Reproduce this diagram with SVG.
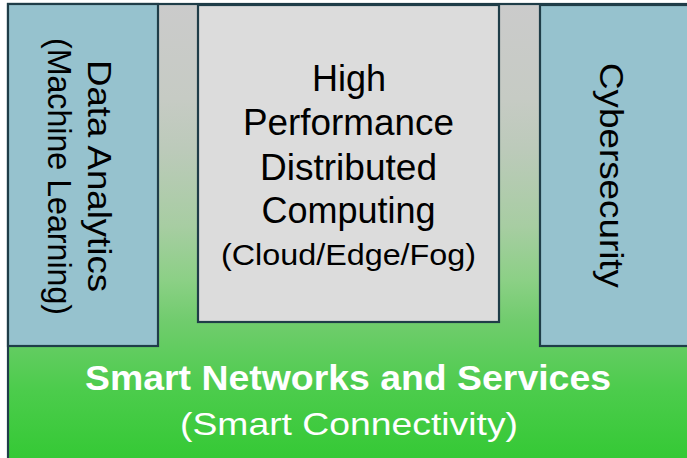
<svg xmlns="http://www.w3.org/2000/svg" width="687" height="458" viewBox="0 0 687 458">
  <defs>
    <linearGradient id="baseFill" x1="0" y1="4" x2="0" y2="458" gradientUnits="userSpaceOnUse">
      <stop offset="0" stop-color="#cbcbcb"/>
      <stop offset="0.21" stop-color="#c6cbc4"/>
      <stop offset="0.32" stop-color="#bccaba"/>
      <stop offset="0.49" stop-color="#a7cda2"/>
      <stop offset="0.61" stop-color="#8bd085"/>
      <stop offset="0.70" stop-color="#70cc6d"/>
      <stop offset="0.85" stop-color="#4ccc4c"/>
      <stop offset="1" stop-color="#35c935"/>
    </linearGradient>
  </defs>
  <style>
    .frame { stroke: #1f3d48; stroke-width: 2.2; }
    .pillar { fill: #96c2ce; }
    .core { fill: #dcdcdc; }
    .dark { font-family: "Liberation Sans", Arial, Helvetica, sans-serif; fill: #000; text-anchor: middle; }
    .light { font-family: "Liberation Sans", Arial, Helvetica, sans-serif; fill: #fff; text-anchor: middle; }
  </style>

  <!-- base layer: smart networks -->
  <g id="smart-networks">
    <rect class="frame" x="8" y="4" width="690" height="470" fill="url(#baseFill)"/>
    <text class="light" x="348" y="390" font-size="35" font-weight="bold" textLength="526" lengthAdjust="spacingAndGlyphs">Smart Networks and Services</text>
    <text class="light" x="349" y="435" font-size="32" textLength="338" lengthAdjust="spacingAndGlyphs">(Smart Connectivity)</text>
  </g>

  <!-- left pillar -->
  <g id="data-analytics">
    <rect class="frame pillar" x="8" y="4" width="150" height="342"/>
    <text class="dark" transform="translate(88,176) rotate(90)" font-size="33" textLength="232" lengthAdjust="spacingAndGlyphs">Data Analytics</text>
    <text class="dark" transform="translate(48,176.5) rotate(90)" font-size="33" textLength="277" lengthAdjust="spacingAndGlyphs">(Machine Learning)</text>
  </g>

  <!-- centre block -->
  <g id="hpc">
    <rect class="frame core" x="198" y="5" width="301" height="317"/>
    <text class="dark" x="349" y="91" font-size="36">High</text>
    <text class="dark" x="348.5" y="135" font-size="36" textLength="211" lengthAdjust="spacingAndGlyphs">Performance</text>
    <text class="dark" x="348.5" y="180" font-size="36" textLength="177" lengthAdjust="spacingAndGlyphs">Distributed</text>
    <text class="dark" x="348.5" y="223" font-size="36">Computing</text>
    <text class="dark" x="348.5" y="265" font-size="30" textLength="255" lengthAdjust="spacingAndGlyphs">(Cloud/Edge/Fog)</text>
  </g>

  <!-- right pillar -->
  <g id="cybersecurity">
    <rect class="frame pillar" x="540" y="5" width="160" height="341"/>
    <text class="dark" transform="translate(600,175.5) rotate(90)" font-size="33" textLength="225" lengthAdjust="spacingAndGlyphs">Cybersecurity</text>
  </g>

  <g id="connectors"/>
</svg>
